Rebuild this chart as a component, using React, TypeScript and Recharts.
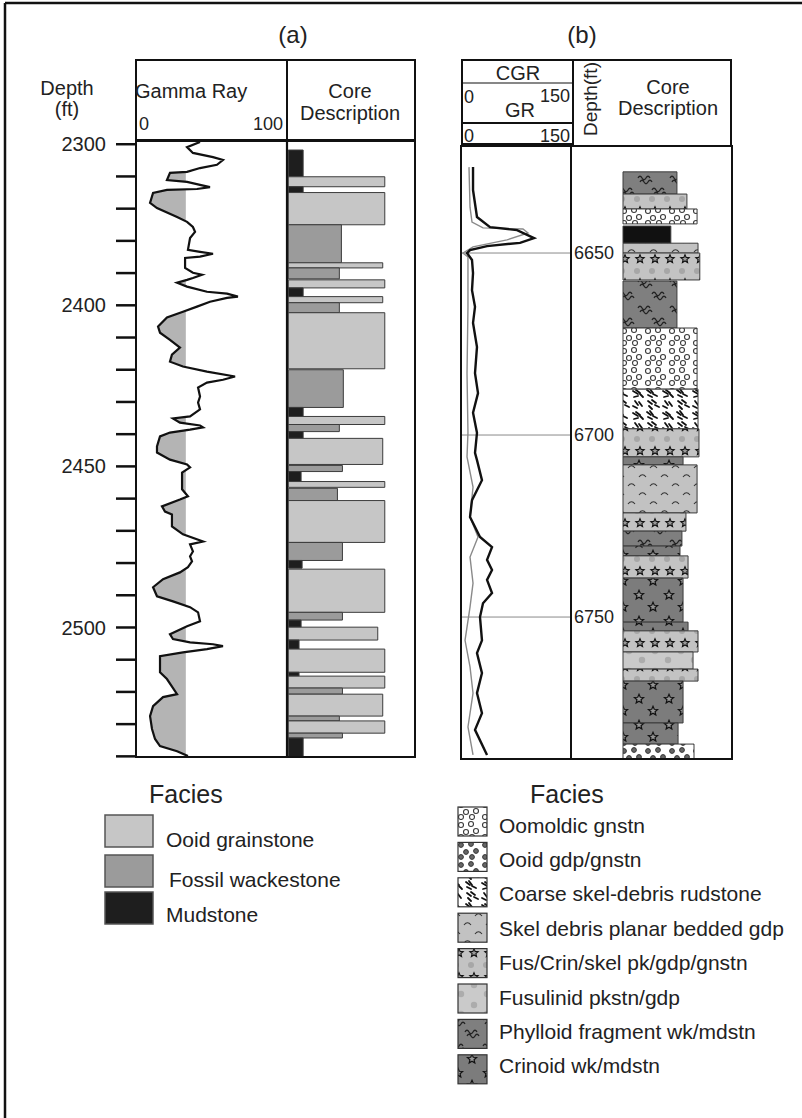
import React from "react";
import {
  ComposedChart,
  Area,
  Line,
  XAxis,
  YAxis,
  ReferenceArea,
  ReferenceLine,
} from "recharts";

const FONT = "'Liberation Sans', Arial, Helvetica, sans-serif";
const INK = "#222";

// ---------- panel (a): gamma ray log (API 0-100) against depth (ft)
const GR_CUTOFF = 33;
const DOMAIN_A: [number, number] = [2349, 2540.2];

const grA = [
  { depth: 2349.3, gr: 42.4 }, { depth: 2350.9, gr: 33.8 }, { depth: 2352.7, gr: 37.7 },
  { depth: 2354.0, gr: 51 }, { depth: 2354.9, gr: 57.6 }, { depth: 2356.4, gr: 53.6 },
  { depth: 2357.4, gr: 42.4 }, { depth: 2358.6, gr: 33.8 }, { depth: 2358.9, gr: 22.5 },
  { depth: 2361.1, gr: 20.5 }, { depth: 2361.7, gr: 33.8 }, { depth: 2362.6, gr: 42.4 },
  { depth: 2363.3, gr: 49 }, { depth: 2363.9, gr: 40.4 }, { depth: 2364.2, gr: 20.5 },
  { depth: 2365.1, gr: 11.3 }, { depth: 2368.2, gr: 9.3 }, { depth: 2369.8, gr: 13.9 },
  { depth: 2372.6, gr: 27.2 }, { depth: 2374.1, gr: 33.8 }, { depth: 2375.7, gr: 37.7 },
  { depth: 2377.2, gr: 39.1 }, { depth: 2379.1, gr: 35.8 }, { depth: 2382.8, gr: 34.4 },
  { depth: 2383.4, gr: 42.4 }, { depth: 2384.0, gr: 51 }, { depth: 2384.9, gr: 42.4 },
  { depth: 2385.3, gr: 32.5 }, { depth: 2388.4, gr: 32.5 }, { depth: 2389.9, gr: 37.7 },
  { depth: 2390.5, gr: 43.7 }, { depth: 2391.5, gr: 37.7 }, { depth: 2392.1, gr: 33.8 },
  { depth: 2393.0, gr: 27.2 }, { depth: 2394.2, gr: 33.8 }, { depth: 2395.8, gr: 47 },
  { depth: 2396.4, gr: 60.3 }, { depth: 2397.3, gr: 67.5 }, { depth: 2397.7, gr: 60.3 },
  { depth: 2398.9, gr: 49 }, { depth: 2400.4, gr: 40.4 }, { depth: 2402.0, gr: 31.1 },
  { depth: 2403.8, gr: 20.5 }, { depth: 2406.6, gr: 14.6 }, { depth: 2408.5, gr: 15.9 },
  { depth: 2410.7, gr: 22.5 }, { depth: 2413.1, gr: 29.1 }, { depth: 2415.3, gr: 23.8 },
  { depth: 2417.5, gr: 22.5 }, { depth: 2419.0, gr: 31.1 }, { depth: 2420.6, gr: 47 },
  { depth: 2422.1, gr: 65.6 }, { depth: 2423.1, gr: 57.6 }, { depth: 2424.0, gr: 47 },
  { depth: 2425.5, gr: 41.1 }, { depth: 2428.3, gr: 42.4 }, { depth: 2430.2, gr: 41.1 },
  { depth: 2432.3, gr: 42.4 }, { depth: 2434.5, gr: 35.8 }, { depth: 2435.1, gr: 24.5 },
  { depth: 2436.4, gr: 29.1 }, { depth: 2437.3, gr: 42.4 }, { depth: 2437.9, gr: 44.4 },
  { depth: 2438.6, gr: 35.8 }, { depth: 2439.5, gr: 22.5 }, { depth: 2440.7, gr: 15.9 },
  { depth: 2443.8, gr: 13.9 }, { depth: 2445.7, gr: 13.9 }, { depth: 2447.9, gr: 22.5 },
  { depth: 2449.4, gr: 33.8 }, { depth: 2450.3, gr: 35.8 }, { depth: 2451.9, gr: 30.5 },
  { depth: 2457.1, gr: 30.5 }, { depth: 2459.3, gr: 34.4 }, { depth: 2460.3, gr: 29.1 },
  { depth: 2462.4, gr: 17.2 }, { depth: 2464.0, gr: 19.2 }, { depth: 2464.9, gr: 23.8 },
  { depth: 2468.6, gr: 23.8 }, { depth: 2471.1, gr: 31.1 }, { depth: 2473.3, gr: 44.4 },
  { depth: 2474.2, gr: 35.8 }, { depth: 2476.4, gr: 37.7 }, { depth: 2477.9, gr: 35.8 },
  { depth: 2479.5, gr: 37.1 }, { depth: 2481.3, gr: 34.4 }, { depth: 2482.9, gr: 29.1 },
  { depth: 2485.0, gr: 17.9 }, { depth: 2487.5, gr: 11.3 }, { depth: 2490.3, gr: 13.9 },
  { depth: 2491.9, gr: 24.5 }, { depth: 2493.7, gr: 35.8 }, { depth: 2495.3, gr: 41.1 },
  { depth: 2498.1, gr: 42.4 }, { depth: 2499.6, gr: 33.8 }, { depth: 2502.1, gr: 22.5 },
  { depth: 2503.6, gr: 24.5 }, { depth: 2504.6, gr: 35.8 }, { depth: 2505.2, gr: 51 },
  { depth: 2505.8, gr: 57.6 }, { depth: 2506.7, gr: 47 }, { depth: 2507.7, gr: 31.1 },
  { depth: 2508.9, gr: 15.9 }, { depth: 2513.9, gr: 15.9 }, { depth: 2516.0, gr: 20.5 },
  { depth: 2520.7, gr: 27.2 }, { depth: 2521.6, gr: 17.9 }, { depth: 2524.4, gr: 11.3 },
  { depth: 2527.5, gr: 9.3 }, { depth: 2531.5, gr: 10.6 }, { depth: 2534.6, gr: 12.6 },
  { depth: 2536.8, gr: 15.9 }, { depth: 2538.4, gr: 27.2 }, { depth: 2539.9, gr: 34.4 },
];

const depthTicksA = [
  2350, 2360, 2370, 2380, 2390, 2400, 2410, 2420, 2430, 2440,
  2450, 2460, 2470, 2480, 2490, 2500, 2510, 2520, 2530, 2540,
];
// labels as printed on the original figure
const depthLabelsA: Record<number, string> = { 2350: "2300", 2400: "2400", 2450: "2450", 2500: "2500" };

const faciesA = [
  { key: "og", name: "Ooid grainstone", color: "#c6c6c6" },
  { key: "fw", name: "Fossil wackestone", color: "#9b9b9b" },
  { key: "md", name: "Mudstone", color: "#1e1e1e" },
];

// core description (a): top, bottom (ft), facies, relative width
const coreA = [
  { top: 2351.8, bottom: 2360.1, facies: "md", width: 12.6 },
  { top: 2360.1, bottom: 2363.2, facies: "og", width: 76.4 },
  { top: 2363.2, bottom: 2365.0, facies: "md", width: 12.6 },
  { top: 2365.0, bottom: 2375.0, facies: "og", width: 76.4 },
  { top: 2375.0, bottom: 2386.8, facies: "fw", width: 42.5 },
  { top: 2386.8, bottom: 2388.4, facies: "og", width: 74.8 },
  { top: 2388.4, bottom: 2391.8, facies: "fw", width: 40.9 },
  { top: 2392.1, bottom: 2394.6, facies: "og", width: 76.4 },
  { top: 2394.6, bottom: 2397.3, facies: "md", width: 12.6 },
  { top: 2397.3, bottom: 2399.2, facies: "og", width: 74.8 },
  { top: 2399.2, bottom: 2402.3, facies: "fw", width: 40.9 },
  { top: 2402.3, bottom: 2419.7, facies: "og", width: 76.4 },
  { top: 2420.0, bottom: 2431.7, facies: "fw", width: 44 },
  { top: 2431.7, bottom: 2434.5, facies: "md", width: 12.6 },
  { top: 2434.5, bottom: 2437.0, facies: "og", width: 76.4 },
  { top: 2437.0, bottom: 2439.2, facies: "fw", width: 40.9 },
  { top: 2439.2, bottom: 2441.3, facies: "md", width: 12.6 },
  { top: 2441.3, bottom: 2449.4, facies: "og", width: 74.8 },
  { top: 2449.7, bottom: 2451.6, facies: "fw", width: 43.3 },
  { top: 2451.6, bottom: 2454.7, facies: "md", width: 11 },
  { top: 2454.7, bottom: 2456.5, facies: "og", width: 76.4 },
  { top: 2456.8, bottom: 2460.6, facies: "fw", width: 39.4 },
  { top: 2460.6, bottom: 2473.6, facies: "og", width: 76.4 },
  { top: 2473.6, bottom: 2479.2, facies: "fw", width: 43.3 },
  { top: 2479.2, bottom: 2481.6, facies: "md", width: 11.8 },
  { top: 2481.9, bottom: 2495.3, facies: "og", width: 76.4 },
  { top: 2495.3, bottom: 2497.7, facies: "fw", width: 43.3 },
  { top: 2497.7, bottom: 2499.9, facies: "md", width: 11 },
  { top: 2499.9, bottom: 2503.9, facies: "og", width: 70.9 },
  { top: 2503.9, bottom: 2506.7, facies: "md", width: 9.4 },
  { top: 2506.7, bottom: 2513.9, facies: "og", width: 76.4 },
  { top: 2513.9, bottom: 2515.1, facies: "md", width: 9.4 },
  { top: 2515.1, bottom: 2518.8, facies: "og", width: 76.4 },
  { top: 2518.8, bottom: 2520.7, facies: "fw", width: 43.3 },
  { top: 2520.7, bottom: 2527.5, facies: "og", width: 74.8 },
  { top: 2527.5, bottom: 2529.0, facies: "fw", width: 40.9 },
  { top: 2529.0, bottom: 2532.8, facies: "og", width: 76.4 },
  { top: 2532.8, bottom: 2534.3, facies: "fw", width: 43.3 },
  { top: 2534.3, bottom: 2540.2, facies: "md", width: 12.6 },
];

// ---------- panel (b): GR / CGR (0-150) against depth (ft)
const DOMAIN_B: [number, number] = [6620.6, 6789];
const depthTicksB = [6650, 6700, 6750];

const grB = [
  { depth: 6626.4, v: 16.4 }, { depth: 6632.7, v: 16.4 }, { depth: 6640.1, v: 21.8 },
  { depth: 6642.9, v: 39.6 }, { depth: 6643.7, v: 76.4 }, { depth: 6645.9, v: 99.6 },
  { depth: 6647.2, v: 80.5 }, { depth: 6648.1, v: 35.5 }, { depth: 6649.2, v: 12.3 },
  { depth: 6650.0, v: 8.2 }, { depth: 6651.9, v: 15 }, { depth: 6655.5, v: 16.4 },
  { depth: 6660.2, v: 15 }, { depth: 6664.8, v: 19.1 }, { depth: 6669.2, v: 16.4 },
  { depth: 6675.8, v: 21.8 }, { depth: 6683.0, v: 19.1 }, { depth: 6688.5, v: 23.2 },
  { depth: 6693.9, v: 16.4 }, { depth: 6699.4, v: 21.8 }, { depth: 6704.9, v: 19.1 },
  { depth: 6706.9, v: 21.8 }, { depth: 6712.4, v: 28.6 }, { depth: 6717.9, v: 15 },
  { depth: 6722.5, v: 12.3 }, { depth: 6728.0, v: 25.9 }, { depth: 6730.8, v: 42.3 },
  { depth: 6734.3, v: 35.5 }, { depth: 6737.1, v: 42.3 }, { depth: 6739.8, v: 35.5 },
  { depth: 6743.4, v: 42.3 }, { depth: 6746.2, v: 30 }, { depth: 6750.0, v: 25.9 },
  { depth: 6756.4, v: 28.6 }, { depth: 6759.9, v: 21.8 }, { depth: 6765.4, v: 28.6 },
  { depth: 6770.9, v: 21.8 }, { depth: 6776.4, v: 28.6 }, { depth: 6781.0, v: 19.1 },
  { depth: 6787.9, v: 35.5 },
];

const cgrB = [
  { depth: 6626.4, v: 10.9 }, { depth: 6637.4, v: 12.3 }, { depth: 6641.5, v: 15 },
  { depth: 6643.1, v: 30 }, { depth: 6643.4, v: 84.5 }, { depth: 6644.5, v: 91.4 },
  { depth: 6646.4, v: 62.7 }, { depth: 6648.3, v: 16.4 }, { depth: 6650.0, v: 2.7 },
  { depth: 6651.1, v: 9.5 }, { depth: 6664.8, v: 9.5 }, { depth: 6683.0, v: 8.2 },
  { depth: 6699.4, v: 9.5 }, { depth: 6706.0, v: 8.2 }, { depth: 6714.3, v: 16.4 },
  { depth: 6722.5, v: 12.3 }, { depth: 6728.0, v: 23.2 }, { depth: 6733.5, v: 12.3 },
  { depth: 6740.7, v: 16.4 }, { depth: 6747.3, v: 12.3 }, { depth: 6756.4, v: 5.5 },
  { depth: 6763.7, v: 12.3 }, { depth: 6770.9, v: 16.4 }, { depth: 6780.2, v: 9.5 },
  { depth: 6787.9, v: 16.4 },
];

const faciesB = [
  { key: "oo", name: "Oomoldic gnstn" },
  { key: "og", name: "Ooid gdp/gnstn" },
  { key: "cr", name: "Coarse skel-debris rudstone" },
  { key: "sp", name: "Skel debris planar bedded gdp" },
  { key: "fc", name: "Fus/Crin/skel pk/gdp/gnstn" },
  { key: "fu", name: "Fusulinid pkstn/gdp" },
  { key: "ph", name: "Phylloid fragment wk/mdstn" },
  { key: "cn", name: "Crinoid wk/mdstn" },
];

const CORE_B_START = 32.3;
const coreB = [
  { top: 6627.7, bottom: 6633.8, facies: "ph", width: 65.8 },
  { top: 6633.8, bottom: 6637.9, facies: "fc", width: 72 },
  { top: 6637.9, bottom: 6642.0, facies: "oo", width: 78.3 },
  { top: 6642.6, bottom: 6647.3, facies: "md", width: 62 },
  { top: 6647.3, bottom: 6650.0, facies: "sp", width: 78.9 },
  { top: 6650.0, bottom: 6657.4, facies: "fc", width: 80 },
  { top: 6657.7, bottom: 6670.6, facies: "ph", width: 65.8 },
  { top: 6670.6, bottom: 6687.4, facies: "oo", width: 78.3 },
  { top: 6687.4, bottom: 6698.3, facies: "cr", width: 78.9 },
  { top: 6698.3, bottom: 6706.0, facies: "fc", width: 79.5 },
  { top: 6706.0, bottom: 6708.2, facies: "cn", width: 69.6 },
  { top: 6708.2, bottom: 6721.4, facies: "sp", width: 78.3 },
  { top: 6721.4, bottom: 6726.4, facies: "fc", width: 71.4 },
  { top: 6726.4, bottom: 6730.5, facies: "ph", width: 68.9 },
  { top: 6730.5, bottom: 6733.2, facies: "cn", width: 67.7 },
  { top: 6733.2, bottom: 6739.3, facies: "fc", width: 72.7 },
  { top: 6739.3, bottom: 6751.4, facies: "cn", width: 69.6 },
  { top: 6751.4, bottom: 6753.8, facies: "cn", width: 72.7 },
  { top: 6753.8, bottom: 6759.6, facies: "fc", width: 78.9 },
  { top: 6759.6, bottom: 6764.3, facies: "fu", width: 75.8 },
  { top: 6764.3, bottom: 6767.6, facies: "fc", width: 78.9 },
  { top: 6767.6, bottom: 6779.1, facies: "cn", width: 69.6 },
  { top: 6779.1, bottom: 6784.9, facies: "cn", width: 66.5 },
  { top: 6784.9, bottom: 6789.0, facies: "og", width: 76.4 },
];

const colorA = (f: string) => faciesA.find((x) => x.key === f)?.color ?? "#ccc";
const fillB = (f: string) => (f === "md" ? "#111" : `url(#pat-${f})`);

function starPath(cx: number, cy: number, r: number) {
  const pts: string[] = [];
  for (let i = 0; i < 10; i++) {
    const rad = i % 2 === 0 ? r : r * 0.45;
    const a = -Math.PI / 2 + (i * Math.PI) / 5;
    pts.push(`${(cx + rad * Math.cos(a)).toFixed(2)},${(cy + rad * Math.sin(a)).toFixed(2)}`);
  }
  return `M${pts.join("L")}Z`;
}

const wave = (x: number, y: number) => `M${x} ${y} q2 -3.5 4 0 t4 0 t4 0`;

function Patterns() {
  const ooDots = [[5, 5], [15, 4], [10, 12], [20, 11], [5, 17], [16, 17]];
  const rud = [
    [2, 3, 7, 6], [5, 2, 9, 5], [9, 6, 12, 9], [3, 9, 7, 8],
    [16, 2, 20, 5], [19, 1, 22, 5], [22, 6, 26, 8], [17, 7, 21, 9],
    [4, 13, 7, 17], [8, 14, 11, 18], [2, 18, 6, 20],
    [17, 13, 21, 16], [21, 12, 25, 15], [24, 17, 28, 19], [18, 18, 21, 21],
  ];
  return (
    <svg width={0} height={0} style={{ position: "absolute" }}>
      <defs>
        <pattern id="pat-oo" width={24} height={20} patternUnits="userSpaceOnUse">
          <rect width={24} height={20} fill="#fff" />
          {ooDots.map(([x, y], i) => (
            <circle key={i} cx={x} cy={y} r={2.5} fill="none" stroke="#3a3a3a" strokeWidth={1.1} />
          ))}
        </pattern>
        <pattern id="pat-og" width={24} height={20} patternUnits="userSpaceOnUse">
          <rect width={24} height={20} fill="#fff" />
          {ooDots.map(([x, y], i) => (
            <circle key={i} cx={x} cy={y} r={2.4} fill="#666" stroke="#333" strokeWidth={1} />
          ))}
        </pattern>
        <pattern id="pat-cr" width={30} height={22} patternUnits="userSpaceOnUse">
          <rect width={30} height={22} fill="#fff" />
          {rud.map(([a, b, c, d], i) => (
            <line key={i} x1={a} y1={b} x2={c} y2={d} stroke="#111" strokeWidth={1.8} strokeLinecap="round" />
          ))}
        </pattern>
        <pattern id="pat-sp" width={22} height={18} patternUnits="userSpaceOnUse">
          <rect width={22} height={18} fill="#c2c2c2" />
          <path d="M2 7 Q5.5 2.5 9 7 M13 16 Q16.5 11.5 20 16" fill="none" stroke="#333" strokeWidth={1.1} />
        </pattern>
        <pattern id="pat-fc" width={30} height={24} patternUnits="userSpaceOnUse">
          <rect width={30} height={24} fill="#c3c3c3" />
          <circle cx={6} cy={5} r={3} fill="#a7a7a7" />
          <circle cx={21} cy={5} r={3} fill="#a7a7a7" />
          <path d={starPath(9, 17, 4.4) + starPath(24, 17, 4.4)} fill="#9a9a9a" stroke="#111" strokeWidth={1.1} />
        </pattern>
        <pattern id="pat-fu" width={26} height={20} patternUnits="userSpaceOnUse">
          <rect width={26} height={20} fill="#cacaca" />
          <circle cx={6} cy={5} r={3.2} fill="#acacac" />
          <circle cx={19} cy={14} r={3.2} fill="#acacac" />
        </pattern>
        <pattern id="pat-ph" width={32} height={26} patternUnits="userSpaceOnUse">
          <rect width={32} height={26} fill="#7f7f7f" />
          <path d={`${wave(3, 6)} ${wave(5, 10)} ${wave(17, 18)} ${wave(19, 22)}`} fill="none" stroke="#222" strokeWidth={1.3} />
        </pattern>
        <pattern id="pat-cn" width={30} height={26} patternUnits="userSpaceOnUse">
          <rect width={30} height={26} fill="#7c7c7c" />
          <path d={starPath(8, 7, 4.8) + starPath(22, 19, 4.8)} fill="#959595" stroke="#111" strokeWidth={1.2} />
        </pattern>
      </defs>
    </svg>
  );
}

function GammaTrackA() {
  return (
    <ComposedChart width={247} height={636} data={grA} layout="vertical" margin={{ top: 10, right: 0, bottom: 10, left: 0 }}>
      <XAxis type="number" domain={[0, 100]} hide allowDataOverflow />
      <YAxis
        type="number"
        dataKey="depth"
        domain={DOMAIN_A}
        allowDataOverflow
        ticks={depthTicksA}
        interval={0}
        tickFormatter={(v: number) => depthLabelsA[v] ?? ""}
        width={96}
        axisLine={false}
        tickLine={{ stroke: "#111", strokeWidth: 2.5 }}
        tickSize={20}
        tickMargin={10}
        tick={{ fontSize: 20, fill: INK, fontFamily: FONT }}
      />
      {/* gray shading below the cutoff, then blanked out left of the curve */}
      <Area dataKey={() => GR_CUTOFF} baseValue={0} type="linear" fill="#b4b4b4" fillOpacity={1} stroke="none" isAnimationActive={false} />
      <Area dataKey="gr" baseValue={0} type="linear" fill="#fff" fillOpacity={1} stroke="#111" strokeWidth={2.2} isAnimationActive={false} />
    </ComposedChart>
  );
}

function CoreTrackA() {
  return (
    <ComposedChart width={128} height={616} data={coreA} layout="vertical" margin={{ top: 0, right: 0, bottom: 0, left: 0 }}>
      <XAxis type="number" domain={[0, 100]} hide allowDataOverflow />
      <YAxis type="number" dataKey="top" domain={DOMAIN_A} hide allowDataOverflow />
      {coreA.map((l, i) => (
        <ReferenceArea key={i} x1={1} x2={l.width} y1={l.top} y2={l.bottom} fill={colorA(l.facies)} fillOpacity={1} stroke="#3c3c3c" strokeWidth={1} ifOverflow="visible" />
      ))}
    </ComposedChart>
  );
}

function GammaTrackB() {
  return (
    <ComposedChart width={170} height={633} layout="vertical" margin={{ top: 10, right: 0, bottom: 10, left: 0 }}>
      <XAxis type="number" domain={[0, 150]} hide allowDataOverflow />
      <YAxis
        type="number"
        dataKey="depth"
        orientation="right"
        domain={DOMAIN_B}
        allowDataOverflow
        ticks={depthTicksB}
        interval={0}
        width={60}
        axisLine={false}
        tickLine={false}
        tickSize={0}
        tickMargin={3}
        tick={{ fontSize: 18, fill: INK, fontFamily: FONT }}
      />
      {depthTicksB.map((d) => (
        <ReferenceLine key={d} y={d} stroke="#8a8a8a" strokeWidth={1} />
      ))}
      <Line data={cgrB} dataKey="v" type="linear" stroke="#8a8a8a" strokeWidth={1.4} dot={false} isAnimationActive={false} />
      <Line data={grB} dataKey="v" type="linear" stroke="#111" strokeWidth={2.4} dot={false} isAnimationActive={false} />
    </ComposedChart>
  );
}

function CoreTrackB() {
  return (
    <ComposedChart width={161} height={613} data={coreB} layout="vertical" margin={{ top: 0, right: 0, bottom: 0, left: 0 }}>
      <XAxis type="number" domain={[0, 100]} hide allowDataOverflow />
      <YAxis type="number" dataKey="top" domain={DOMAIN_B} hide allowDataOverflow />
      {coreB.map((l, i) => (
        <ReferenceArea key={i} x1={CORE_B_START} x2={l.width} y1={l.top} y2={l.bottom} fill={fillB(l.facies)} fillOpacity={1} stroke="#3c3c3c" strokeWidth={1} ifOverflow="visible" />
      ))}
    </ComposedChart>
  );
}

function Overlay() {
  const line = { stroke: "#111", fill: "none" };
  return (
    <svg width={802} height={1118} style={{ position: "absolute", left: 0, top: 0, pointerEvents: "none" }} fontFamily={FONT} fill={INK}>
      {/* outer frame */}
      <line x1={5} y1={3} x2={802} y2={3} {...line} strokeWidth={2.5} />
      <line x1={5} y1={3} x2={5} y2={1118} {...line} strokeWidth={2.5} />

      {/* panel (a) header */}
      <text x={293} y={43} fontSize={24} textAnchor="middle">(a)</text>
      <text x={67} y={95} fontSize={20} textAnchor="middle">Depth</text>
      <text x={67} y={116} fontSize={20} textAnchor="middle">(ft)</text>
      <rect x={136} y={60} width={279} height={80} {...line} strokeWidth={2} />
      <line x1={287} y1={60} x2={287} y2={140} {...line} strokeWidth={2} />
      <text x={135} y={98} fontSize={20}>Gamma Ray</text>
      <text x={139} y={130} fontSize={18}>0</text>
      <text x={283} y={130} fontSize={18} textAnchor="end">100</text>
      <text x={350} y={98} fontSize={20} textAnchor="middle">Core</text>
      <text x={350} y={120} fontSize={20} textAnchor="middle">Description</text>
      <rect x={136} y={141} width={279} height={616} {...line} strokeWidth={2} />
      <line x1={287} y1={141} x2={287} y2={757} {...line} strokeWidth={2.2} />

      {/* panel (b) header */}
      <text x={582} y={43} fontSize={24} textAnchor="middle">(b)</text>
      <rect x={462} y={60} width={111} height={84} {...line} strokeWidth={2} />
      <line x1={462} y1={83} x2={573} y2={83} {...line} strokeWidth={1.2} />
      <line x1={462} y1={123} x2={573} y2={123} {...line} strokeWidth={2} />
      <text x={518} y={80} fontSize={20} textAnchor="middle">CGR</text>
      <text x={464} y={103} fontSize={18}>0</text>
      <text x={570} y={102} fontSize={18} textAnchor="end">150</text>
      <text x={520} y={117} fontSize={20} textAnchor="middle">GR</text>
      <text x={464} y={142} fontSize={18}>0</text>
      <text x={570} y={142} fontSize={18} textAnchor="end">150</text>
      <polyline points="573,60 731,60 731,146" {...line} strokeWidth={2} />
      <text transform="translate(597,99) rotate(-90)" fontSize={19} textAnchor="middle">Depth(ft)</text>
      <text x={668} y={94} fontSize={20} textAnchor="middle">Core</text>
      <text x={668} y={115} fontSize={20} textAnchor="middle">Description</text>
      <rect x={461} y={146} width={271} height={613} {...line} strokeWidth={2} />
      <line x1={571} y1={146} x2={571} y2={759} {...line} strokeWidth={2} />

      {/* legend (a) */}
      <text x={149} y={803} fontSize={25}>Facies</text>
      {faciesA.map((f, i) => {
        const top = [815, 855, 892][i];
        return (
          <g key={f.key}>
            <rect x={105} y={top} width={48} height={32} fill={f.color} stroke="#555" strokeWidth={1.5} />
            <text x={i === 1 ? 169 : 166} y={[847, 887, 922][i]} fontSize={21}>{f.name}</text>
          </g>
        );
      })}

      {/* legend (b) */}
      <text x={530} y={803} fontSize={25}>Facies</text>
      {faciesB.map((f, i) => (
        <g key={f.key}>
          <rect x={458} y={807 + i * 35.4} width={29} height={29} fill={fillB(f.key)} stroke="#333" strokeWidth={1.2} />
          <text x={499} y={832.5 + i * 34.4} fontSize={21}>{f.name}</text>
        </g>
      ))}
    </svg>
  );
}

export default function App() {
  return (
    <div style={{ position: "absolute", left: 0, top: 0, width: 802, height: 1118, background: "#fff", fontFamily: FONT }}>
      <Patterns />
      <div style={{ position: "absolute", left: 40, top: 131 }}>
        <GammaTrackA />
      </div>
      <div style={{ position: "absolute", left: 287, top: 141 }}>
        <CoreTrackA />
      </div>
      <div style={{ position: "absolute", left: 571, top: 146 }}>
        <CoreTrackB />
      </div>
      <div style={{ position: "absolute", left: 461, top: 136 }}>
        <GammaTrackB />
      </div>
      <Overlay />
    </div>
  );
}
